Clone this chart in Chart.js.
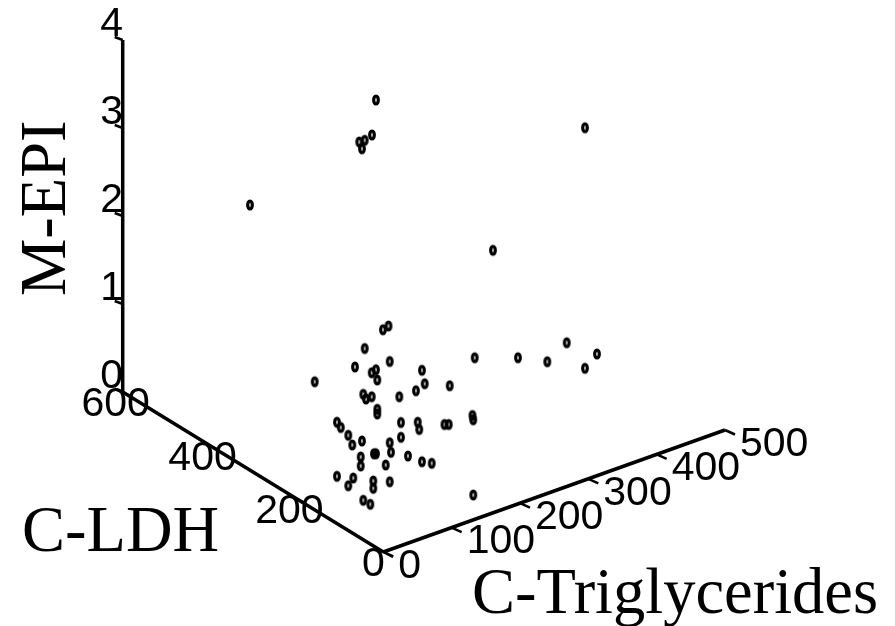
<!DOCTYPE html>
<html>
<head>
<meta charset="utf-8">
<style>html,body{margin:0;padding:0;background:#fff}#wrap{width:895px;height:626px}canvas{display:block}</style>
<script src="https://cdn.jsdelivr.net/npm/chart.js@4"></script>
</head>
<body>
<div id="wrap"><canvas id="c" width="895" height="626"></canvas></div>
<script>
const projectedX = [376,372,359.3,364.7,362,585,493,250,388.5,383,364.7,355,389.7,474.7,518,547.3,566.7,597,585,314.7,371.7,376,377.3,422,424.7,416,449.7,399.3,363.3,366,371.7,377.3,377.3,472.5,473.2,401,417.7,419.2,444.5,448.7,337,340.8,348.3,352.3,362,389.7,391,401,374,376,360.7,360.7,385.7,408,422,431.7,337,353.3,348.3,373.3,373.3,389.7,363.3,370.3,473.3];
const projectedY = [100,135,142,140.3,148.7,127.7,250.3,205,326,329.7,348.5,367,361.5,357.7,357.7,361.7,342.7,354,368.3,381.7,372.7,369.7,380,370.3,383.7,390.7,385.7,396.7,394.3,399,396.7,409.3,414,415.5,419.7,422.5,422.2,429.5,424.5,424.5,422.2,427.5,435.3,445,441,442.7,452.3,437.3,453.7,453.7,457,466,465,456,461.7,463.3,476.3,478,485.7,481,488.3,481.7,500.3,504.3,495];

const trigTicks = [0,100,200,300,400,500];
const ldhTicks = [0,200,400,600];
const epiTicks = [0,1,2,3,4];
const trigTitle = 'C-Triglycerides';
const ldhTitle = 'C-LDH';
const epiTitle = 'M-EPI';

// Oblique projection of the three axes onto the plot plane
const origin = {x:383.3, y:552};
const project = (t,l,e) => ({
  x: origin.x + t*(725-383.3)/500 + l*(122.7-383.3)/600,
  y: origin.y - t*(552-430)/500 - l*(552-392)/600 - e*(393-41)/4
});
const gapPoint = {x:NaN,y:NaN};

const axisLines = [
  project(0,0,0), project(500,0,0), gapPoint,
  project(0,0,0), project(0,600,0), gapPoint,
  project(0,600,0), project(0,600,4)
];
const tickLines = [];
const addTick = (p,dx,dy) => { tickLines.push(p,{x:p.x+dx,y:p.y+dy},gapPoint); };
trigTicks.forEach(t => addTick(project(t,0,0), 10, 4.5));
ldhTicks.forEach(l => addTick(project(0,l,0), 9.5, 5));
epiTicks.forEach(e => addTick(project(0,600,e), -8, -3));

// Ring-shaped marker
const marker = document.createElement('canvas');
marker.width = 12; marker.height = 16;
(() => {
  const m = marker.getContext('2d');
  m.strokeStyle = '#000'; m.lineWidth = 3.2;
  m.beginPath(); m.ellipse(6,8,2.3,4.0,0,0,Math.PI*2); m.stroke();
})();

const textPlugin = {
  id:'axisText',
  afterDatasetsDraw(chart){
    const {ctx, scales:{x,y}} = chart;
    const put = (txt,p,dx,dy,align) => {
      ctx.textAlign = align; ctx.fillText(txt, x.getPixelForValue(p.x)+dx, y.getPixelForValue(p.y)+dy);
    };
    ctx.save();
    ctx.fillStyle = '#000';
    ctx.textBaseline = 'middle';
    ctx.font = '41px "Liberation Sans", Arial, sans-serif';
    trigTicks.forEach(t => put(String(t), project(t,0,0), 15, 14.5, 'left'));
    ldhTicks.forEach(l => put(String(l), project(0,l,0), l===0?-10:-7, 13, 'center'));
    epiTicks.forEach(e => put(String(e), project(0,600,e), -11, -15, 'center'));
    ctx.textBaseline = 'alphabetic';
    ctx.font = '64.5px "Liberation Serif", "Times New Roman", serif';
    ctx.textAlign = 'left';
    ctx.fillText(trigTitle, x.getPixelForValue(472), y.getPixelForValue(613));
    ctx.fillText(ldhTitle, x.getPixelForValue(22), y.getPixelForValue(551));
    ctx.save();
    ctx.translate(x.getPixelForValue(65), y.getPixelForValue(296));
    ctx.rotate(-Math.PI/2);
    ctx.fillText(epiTitle, 0, 0);
    ctx.restore();
    ctx.restore();
  }
};

new Chart(document.getElementById('c'), {
  type:'scatter',
  data:{datasets:[
    {data:projectedX.map((v,i)=>({x:v,y:projectedY[i]})), pointStyle:marker, pointRadius:5, showLine:false, order:0},
    {data:axisLines, showLine:true, borderColor:'#000', borderWidth:3.5, pointRadius:0, spanGaps:false, order:1},
    {data:tickLines, showLine:true, borderColor:'#000', borderWidth:2.5, pointRadius:0, spanGaps:false, order:2}
  ]},
  options:{
    responsive:false, animation:false, devicePixelRatio:1,
    layout:{padding:0, autoPadding:false},
    plugins:{legend:{display:false},tooltip:{enabled:false},title:{display:false}},
    scales:{
      x:{type:'linear',display:false,min:0,max:895},
      y:{type:'linear',display:false,min:0,max:626,reverse:true}
    }
  },
  plugins:[textPlugin]
});
</script>
</body>
</html>
